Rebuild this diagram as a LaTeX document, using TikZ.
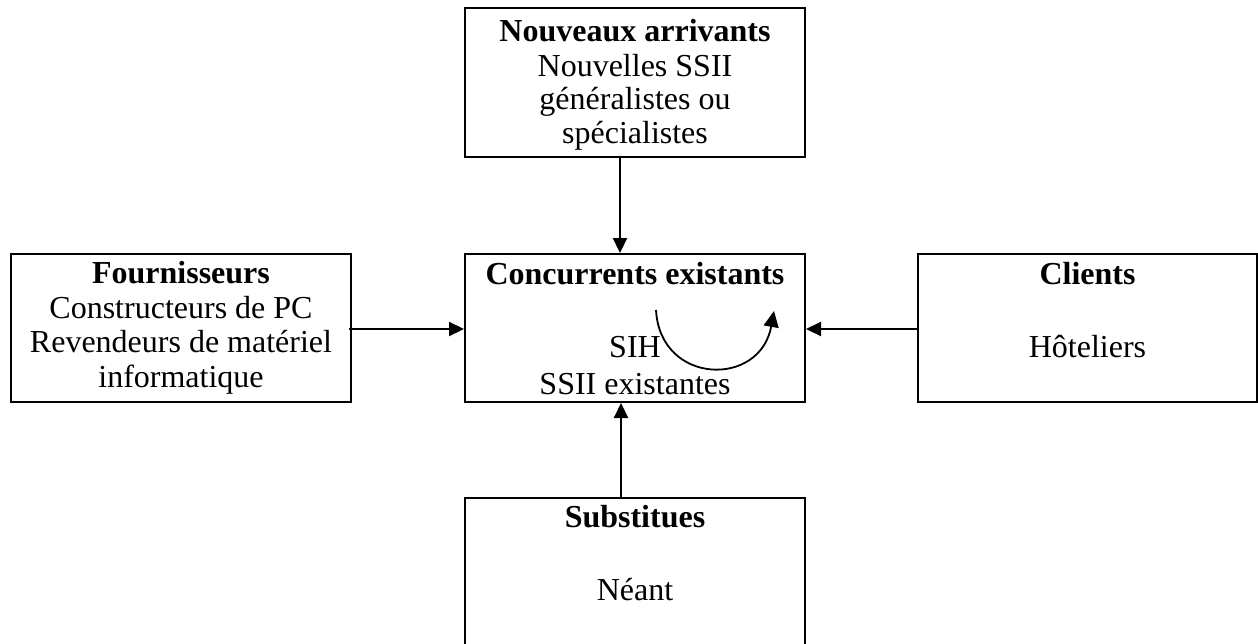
\documentclass[tikz,border=0pt]{standalone}
\usepackage{fontspec}
\setmainfont{Liberation Serif}
\usetikzlibrary{arrows.meta}
\begin{document}
\begin{tikzpicture}[x=1pt,y=-1pt,
  box/.style={draw,line width=2.4pt,rectangle,inner sep=0pt,outer sep=0pt,minimum width=340pt,anchor=north west},
  txt/.style={anchor=base,inner sep=0pt,font=\fontsize{32pt}{38pt}\selectfont},
  hd/.style={txt,font=\fontsize{32pt}{38pt}\selectfont\bfseries},
  conn/.style={line width=2.2pt,-{Triangle[length=15pt,width=14pt]}}]
\useasboundingbox (0,0) rectangle (1258,643);
\clip (0,0) rectangle (1258,643);
% boxes
\node[box,minimum height=149pt] (top) at (465,8) {};
\node[box,minimum height=148pt] (center) at (465,254) {};
\node[box,minimum height=148pt] (left) at (11,254) {};
\node[box,minimum height=148pt,minimum width=339pt] (right) at (918,254) {};
\node[box,minimum height=200pt] (bottom) at (465,498) {};
% texts
\node[hd] (t1) at (635,41) {Nouveaux arrivants};
\node[txt] (t2) at (635,76) {Nouvelles SSII};
\node[txt] (t3) at (635,109) {généralistes ou};
\node[txt] (t4) at (635,143) {spécialistes};
\node[hd] (c1) at (635,284) {Concurrents existants};
\node[txt] (c2) at (635,357) {SIH};
\node[txt] (c3) at (635,394) {SSII existantes};
\node[hd] (l1) at (181,283) {Fournisseurs};
\node[txt] (l2) at (181,318) {Constructeurs de PC};
\node[txt] (l3) at (181,352) {Revendeurs de matériel};
\node[txt] (l4) at (181,387) {informatique};
\node[hd] (r1) at (1087.5,284) {Clients};
\node[txt] (r2) at (1087.5,357) {Hôteliers};
\node[hd] (b1) at (635,527) {Substitues};
\node[txt] (b2) at (635,600) {Néant};
% connectors
\coordinate (topS) at (620,157);
\coordinate (cenN) at (620,253);
\coordinate (botN) at (621,498);
\coordinate (cenS) at (621,403);
\coordinate (leftE) at (349,329);
\coordinate (cenW) at (464,329);
\coordinate (rightW) at (918,329);
\coordinate (cenE) at (806,329);
\coordinate (cs) at (656,310);
\coordinate (ce) at (774,311);
\draw[conn] (topS) -- (cenN);
\draw[conn] (botN) -- (cenS);
\draw[conn] (leftE) -- (cenW);
\draw[conn] (rightW) -- (cenE);
\draw[line width=1.8pt,-{Triangle[length=16pt,width=15pt]}] (cs) .. controls (660,385) and (760,388) .. (ce);
\end{tikzpicture}
\end{document}
